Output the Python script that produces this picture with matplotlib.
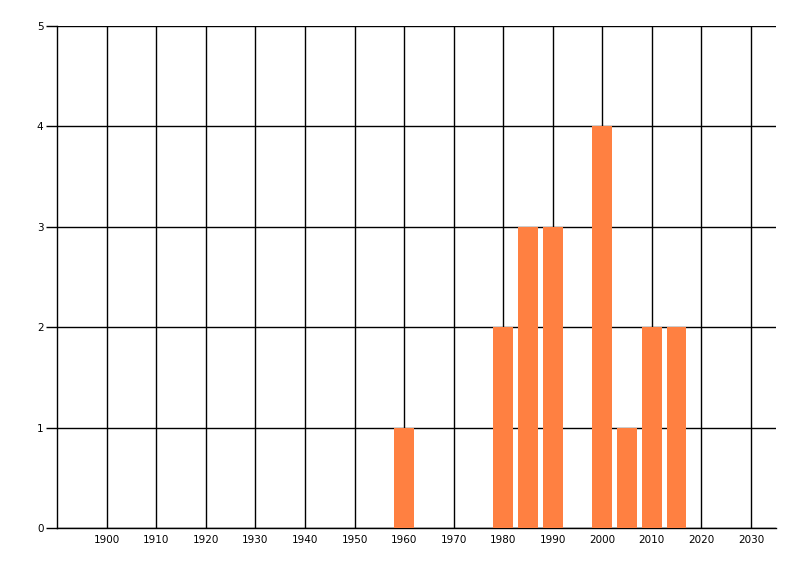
import matplotlib
matplotlib.use("Agg")
import matplotlib.pyplot as plt

years = [1960, 1980, 1985, 1990, 2000, 2005, 2010, 2015]
counts = [1, 2, 3, 3, 4, 1, 2, 2]
x_ticks = list(range(1900, 2031, 10))
y_ticks = [0, 1, 2, 3, 4, 5]

fig = plt.figure(figsize=(8, 5.76), dpi=100)
ax = fig.add_axes([0.0716, 0.0828, 0.8980, 0.8721])
ax.bar(years, counts, width=4, color="#FF8041", zorder=3)
ax.set_xlim(1890, 2035)
ax.set_ylim(0, 5)
ax.set_xticks(x_ticks)
ax.set_yticks(y_ticks)
ax.grid(True, color="black", linewidth=1.0, zorder=0)
for s in ["top", "right"]:
    ax.spines[s].set_visible(False)
ax.spines["left"].set_linewidth(1.0)
ax.spines["bottom"].set_linewidth(1.0)
ax.tick_params(axis="y", length=8, width=1.0, labelsize=7.5, pad=2)
ax.tick_params(axis="x", length=0, labelsize=7.5, pad=5)
fig.savefig("out.png", dpi=100)
